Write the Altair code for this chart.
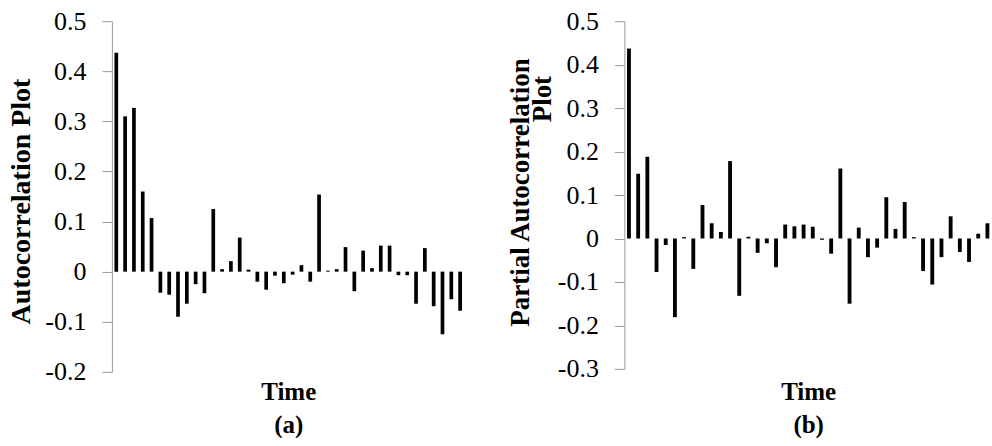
import altair as alt
import pandas as pd

FONT = "Liberation Serif"

# Lags shown on the (unlabelled) time axis
lags = list(range(1, 41))

# Panel (a): autocorrelation coefficients
acf_values = [0.437, 0.31, 0.327, 0.16, 0.107, -0.042, -0.046, -0.09, -0.064, -0.025,
              -0.043, 0.125, 0.005, 0.021, 0.068, 0.004, -0.02, -0.036, -0.008, -0.023,
              -0.006, 0.013, -0.02, 0.154, 0.002, 0.005, 0.049, -0.039, 0.042, 0.007,
              0.052, 0.052, -0.007, -0.007, -0.064, 0.047, -0.069, -0.125, -0.055, -0.078]

# Panel (b): partial autocorrelation coefficients
pacf_values = [0.437, 0.149, 0.188, -0.077, -0.015, -0.181, 0.003, -0.07, 0.077, 0.035,
               0.015, 0.178, -0.132, 0.004, -0.033, -0.011, -0.066, 0.032, 0.028, 0.032,
               0.027, -0.003, -0.035, 0.161, -0.15, 0.025, -0.043, -0.021, 0.095, 0.022,
               0.084, 0.003, -0.075, -0.106, -0.043, 0.051, -0.031, -0.054, 0.011, 0.035]

acf_ticks = [-0.2, -0.1, 0.0, 0.1, 0.2, 0.3, 0.4, 0.5]
pacf_ticks = [-0.3, -0.2, -0.1, 0.0, 0.1, 0.2, 0.3, 0.4, 0.5]

acf_df = pd.DataFrame({"lag": lags, "value": acf_values})
pacf_df = pd.DataFrame({"lag": lags, "value": pacf_values})

GREY = "#9a9a9a"
LABEL_EXPR = "replace(format(datum.value, '.1~f'), '\u2212', '-')"


def x_axis(caption, pad):
    return alt.X(
        "lag:O",
        scale=alt.Scale(paddingInner=0.58, paddingOuter=0.29),
        axis=alt.Axis(
            domain=False, ticks=False, labels=False,
            title=["Time", caption], titleFont=FONT, titleFontSize=25,
            titleFontWeight="bold", titleColor="black", titlePadding=pad,
            titleLineHeight=33,
        ),
    )


def y_axis(ticks, title, title_x, title_y, title_size):
    return alt.Y(
        "value:Q",
        scale=alt.Scale(domain=[ticks[0], ticks[-1]], nice=False, zero=False),
        axis=alt.Axis(
            values=ticks, labelExpr=LABEL_EXPR, grid=False,
            tickSize=10, tickColor=GREY, domainColor=GREY,
            labelFont=FONT, labelFontSize=26, labelColor="black", labelPadding=16,
            title=title, titleFont=FONT, titleFontSize=title_size, titleFontWeight="bold",
            titleColor="black", titleAngle=270, titleX=title_x, titleY=title_y,
            titleAlign="center", titleBaseline="middle",
        ),
    )


acf_chart = alt.Chart(acf_df).mark_bar(color="black").encode(
    x=x_axis("(a)", 8),
    y=y_axis(acf_ticks, "Autocorrelation  Plot", -90, 180, 28),
    y2=alt.datum(0),
).properties(width=353, height=351)

pacf_bars = alt.Chart(pacf_df).mark_bar(color="black").encode(
    x=x_axis("(b)", 11),
    y=y_axis(pacf_ticks, "Partial Autocorrelation", -104, 171, 27),
    y2=alt.datum(0),
)

# Second line of the y-axis title of panel (b)
pacf_title2 = alt.Chart(pd.DataFrame({"t": ["Plot"]})).mark_text(
    angle=270, font=FONT, fontSize=27, fontWeight="bold", color="black",
    align="center", baseline="middle",
).encode(text="t:N", x=alt.value(-81), y=alt.value(78))

pacf_chart = alt.layer(pacf_bars, pacf_title2).properties(width=368, height=348)

chart = alt.hconcat(acf_chart, pacf_chart, spacing=160, bounds="flush").properties(
    padding={"left": 8, "top": 8, "right": 0, "bottom": 0},
).configure_view(stroke=None)

chart.save("out.html", embed_options={"renderer": "svg", "actions": False})
